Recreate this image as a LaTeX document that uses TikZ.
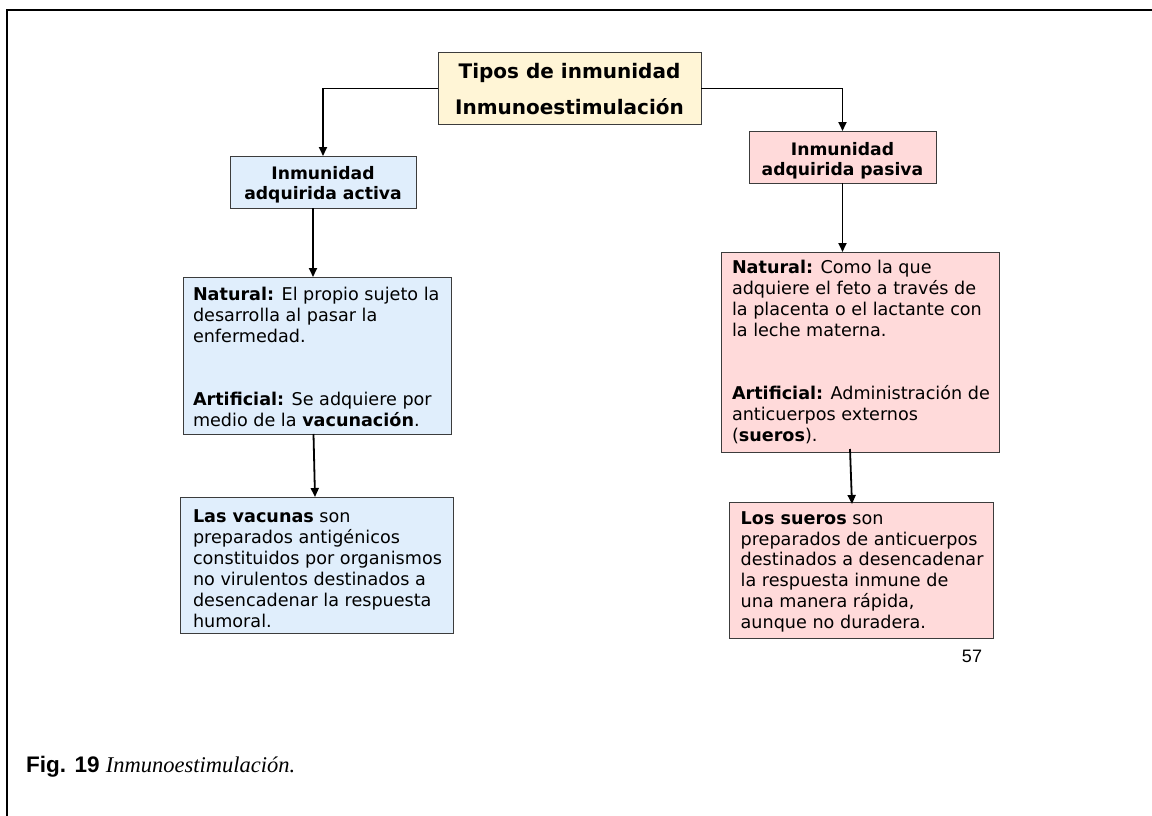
\documentclass[tikz,border=0pt]{standalone}
\usepackage{fontspec}
\setmainfont{DejaVu Sans}
\newfontfamily\capsans{Liberation Sans}
\newfontfamily\capserif{Liberation Serif}
\usetikzlibrary{arrows.meta}

\definecolor{creamfill}{RGB}{255,245,214}
\definecolor{bluefill}{RGB}{224,238,252}
\definecolor{pinkfill}{RGB}{255,218,218}
\definecolor{edgegray}{RGB}{60,60,60}

% fixed-size panel: #1 width, #2 height, #3 left padding,
% #4 distance from top edge to first baseline, #5 font/alignment, #6 text
\newcommand\panel[6]{%
  \begin{minipage}[t][#2][t]{#1}%
    \hspace*{#3}\begin{minipage}[t]{\dimexpr#1-#3\relax}#5\rule{0pt}{#4}#6\end{minipage}%
  \end{minipage}}

\newcommand\bodyfont{\fontsize{17.6}{21}\selectfont}

\tikzset{
  panelbox/.style={draw=edgegray, line width=1pt, inner sep=0pt, outer sep=0pt, anchor=north west},
  conn/.style={line width=1.8pt, -{Triangle[length=9pt,width=8pt]}},
  frameline/.style={line width=1.2pt},
}

\begin{document}
\begin{tikzpicture}[x=1pt,y=-1pt]
\useasboundingbox (0,0) rectangle (1152,816);

% page frame
\draw[frameline] (1152,10) -- (7,10) -- (7,816);

% title
\node[panelbox, fill=creamfill] (top) at (438,53)
  {\panel{263pt}{71pt}{0pt}{25pt}{\centering\fontsize{20}{36}\selectfont\bfseries}%
   {Tipos de inmunidad\\ Inmunoestimulación}};

% active branch
\node[panelbox, fill=bluefill] (a1) at (230,156)
  {\panel{186pt}{52pt}{0pt}{23pt}{\centering\fontsize{17.2}{20}\selectfont\bfseries}%
   {Inmunidad\\ adquirida activa}};

\node[panelbox, fill=bluefill] (a2) at (183,277)
  {\panel{268pt}{157pt}{10pt}{23pt}{\raggedright\bodyfont}%
   {\textbf{Natural:} El propio sujeto la\\ desarrolla al pasar la\\ enfermedad.\\[42pt]
    \textbf{Artificial:} Se adquiere por\\ medio de la \textbf{vacunación}.}};

\node[panelbox, fill=bluefill] (a3) at (180,497)
  {\panel{273pt}{136pt}{13pt}{25.7pt}{\raggedright\bodyfont}%
   {\textbf{Las vacunas} son\\ preparados antigénicos\\ constituidos por organismos\\
    no virulentos destinados a\\ desencadenar la respuesta\\ humoral.}};

% passive branch
\node[panelbox, fill=pinkfill] (b1) at (749,131)
  {\panel{187pt}{52pt}{0pt}{24pt}{\centering\fontsize{17.2}{20}\selectfont\bfseries}%
   {Inmunidad\\ adquirida pasiva}};

\node[panelbox, fill=pinkfill] (b2) at (721,252)
  {\panel{278pt}{200pt}{11pt}{21.3pt}{\raggedright\bodyfont}%
   {\textbf{Natural:} Como la que\\ adquiere el feto a través de\\ la placenta o el lactante con\\
    la leche materna.\\[42pt]
    \textbf{Artificial:} Administración de\\ anticuerpos externos\\ (\textbf{sueros}).}};

\node[panelbox, fill=pinkfill] (b3) at (729,502)
  {\panel{264pt}{136pt}{11.7pt}{22.3pt}{\raggedright\fontsize{17.6}{20.8}\selectfont}%
   {\textbf{Los sueros} son\\ preparados de anticuerpos\\ destinados a desencadenar\\
    la respuesta inmune de\\ una manera rápida,\\ aunque no duradera.}};

% connectors
\draw[conn] (top.west) -| (a1.north);
\draw[conn] (top.east) -| (b1.north);
\draw[conn] ([xshift=-10pt]a1.south) -- ([xshift=-10pt]a1.south |- a2.north);
\draw[conn] ([xshift=-3.5pt]a2.south) -- ([xshift=-1.5pt]a3.north);
\draw[conn] (b1.south) -- (b1.south |- b2.north);
\draw[conn] ([xshift=-10pt,yshift=3pt]b2.south) -- ([xshift=-9pt,yshift=-2pt]b3.north);

% page number and caption
\node[inner sep=0pt] (pagenum) at (972,656) {\capsans\fontsize{18}{18}\selectfont 57};
\node[anchor=base west, inner sep=0pt] (caption) at (26,772)
  {\capsans\bfseries\fontsize{22.5}{22.5}\selectfont Fig. 19 {\capserif\mdseries\itshape Inmunoestimulación.}};
\end{tikzpicture}
\end{document}
